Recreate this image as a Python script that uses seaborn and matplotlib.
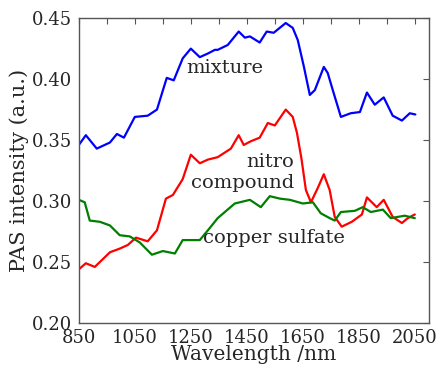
import matplotlib
matplotlib.use("Agg")
import matplotlib.pyplot as plt
import seaborn as sns
import pandas as pd
from matplotlib.ticker import MultipleLocator, FixedLocator

mix_x = [850, 875, 914, 961, 986, 1011, 1050, 1096, 1129, 1164, 1189, 1221, 1250, 1282, 1311, 1336,
         1346, 1382, 1421, 1443, 1461, 1496, 1521, 1546, 1589, 1614, 1632, 1654, 1675, 1693, 1725,
         1739, 1757, 1786, 1821, 1854, 1879, 1907, 1939, 1971, 2004, 2032, 2052]
mix_y = [0.346, 0.354, 0.343, 0.348, 0.355, 0.352, 0.369, 0.370, 0.375, 0.401, 0.399, 0.417, 0.425,
         0.418, 0.421, 0.424, 0.424, 0.428, 0.439, 0.434, 0.435, 0.430, 0.439, 0.438, 0.446, 0.442,
         0.432, 0.410, 0.387, 0.391, 0.410, 0.405, 0.391, 0.369, 0.372, 0.373, 0.389, 0.379, 0.385,
         0.370, 0.366, 0.372, 0.371]

nitro_x = [850, 875, 907, 961, 996, 1025, 1054, 1096, 1129, 1161, 1186, 1221, 1250, 1282, 1311,
           1346, 1393, 1421, 1439, 1464, 1496, 1525, 1550, 1589, 1614, 1629, 1645, 1661, 1679,
           1704, 1725, 1746, 1764, 1789, 1825, 1861, 1879, 1914, 1939, 1971, 2004, 2025, 2050]
nitro_y = [0.244, 0.249, 0.246, 0.258, 0.261, 0.264, 0.270, 0.267, 0.276, 0.302, 0.305, 0.318,
           0.338, 0.331, 0.334, 0.336, 0.343, 0.354, 0.346, 0.349, 0.352, 0.364, 0.362, 0.375,
           0.369, 0.356, 0.335, 0.309, 0.299, 0.311, 0.322, 0.309, 0.287, 0.279, 0.283, 0.289,
           0.303, 0.295, 0.301, 0.287, 0.282, 0.286, 0.289]

cu_x = [850, 871, 889, 925, 961, 996, 1032, 1068, 1111, 1150, 1193, 1221, 1282, 1318, 1346, 1407,
        1461, 1500, 1532, 1568, 1604, 1650, 1686, 1714, 1746, 1764, 1786, 1836, 1864, 1893, 1936,
        1964, 2014, 2050]
cu_y = [0.301, 0.299, 0.284, 0.283, 0.280, 0.272, 0.271, 0.266, 0.256, 0.259, 0.257, 0.268, 0.268,
        0.278, 0.286, 0.298, 0.301, 0.295, 0.304, 0.302, 0.301, 0.298, 0.299, 0.290, 0.286, 0.284,
        0.291, 0.292, 0.295, 0.291, 0.293, 0.286, 0.288, 0.286]

names = ["mixture", "nitro compound", "copper sulfate"]
colors = ["#0000ff", "#ff0000", "#007f00"]

df = pd.concat([
    pd.DataFrame({"wl": mix_x, "v": mix_y, "s": names[0]}),
    pd.DataFrame({"wl": nitro_x, "v": nitro_y, "s": names[1]}),
    pd.DataFrame({"wl": cu_x, "v": cu_y, "s": names[2]}),
], ignore_index=True)

sns.set_style("white")
plt.rcParams["font.family"] = ["DejaVu Serif"]

fig = plt.figure(figsize=(4.38, 3.70), dpi=100)
ax = fig.add_axes([0.180, 0.127, 0.799, 0.824])
sns.lineplot(data=df, x="wl", y="v", hue="s", palette=dict(zip(names, colors)),
             estimator=None, sort=False, linewidth=1.6, legend=False, ax=ax)

ax.set_xlim(850, 2100)
ax.set_ylim(0.20, 0.45)
ax.xaxis.set_major_locator(FixedLocator([850, 1050, 1250, 1450, 1650, 1850, 2050]))
ax.xaxis.set_minor_locator(FixedLocator([950, 1150, 1350, 1550, 1750, 1950]))
ax.yaxis.set_major_locator(MultipleLocator(0.05))
ax.yaxis.set_major_formatter(matplotlib.ticker.FormatStrFormatter("%.2f"))
ax.tick_params(which="both", direction="in", top=True, right=True, length=4, width=0.8,
               color="#555555", labelsize=13, pad=5)
ax.tick_params(axis="x", which="both", pad=4)
for sp in ax.spines.values():
    sp.set_color("#555555")
    sp.set_linewidth(1.0)

ax.set_xlabel("Wavelength /nm", fontsize=14.5, labelpad=-1)
ax.set_ylabel("PAS intensity (a.u.)", fontsize=15, labelpad=2)

ax.text(1371, 0.409, "mixture", fontsize=14, ha="center", va="center")
ax.text(1532, 0.332, "nitro", fontsize=14, ha="center", va="center")
ax.text(1436, 0.315, "compound", fontsize=14, ha="center", va="center")
ax.text(1546, 0.270, "copper sulfate", fontsize=14, ha="center", va="center")

fig.savefig("out.png", dpi=100)
